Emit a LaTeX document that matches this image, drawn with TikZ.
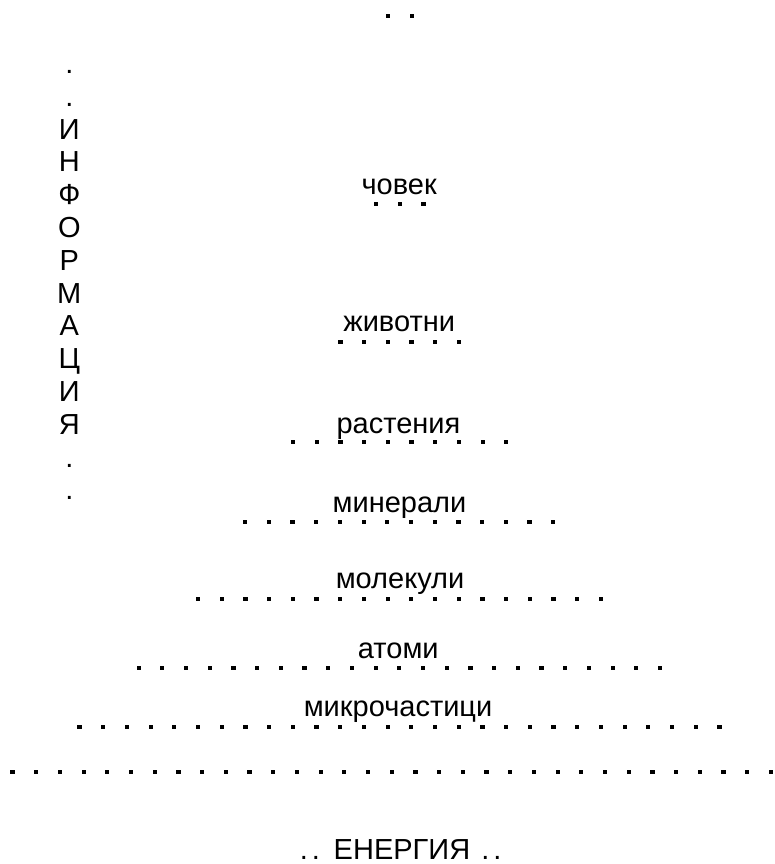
\documentclass[tikz,border=0pt]{standalone}
\usepackage{fontspec}
\setmainfont{Liberation Sans}
\newcommand\lvlfont{\fontsize{29}{35}\selectfont}
\tikzset{
    lvl/.style={font=\lvlfont, anchor=base, inner sep=0pt},
}
\begin{document}
\begin{tikzpicture}[x=1pt, y=-1pt]
    \useasboundingbox (0, 0) rectangle (774, 864);
    % rows of dots: y / number of dots / centre
    \foreach \y/\n/\c in {15.7/2/399.8, 204.3/3/399.7, 341.7/6/399.7, 441.7/10/399.7, 522.3/14/399.2, 599.3/18/399.5, 668.3/23/399.3, 726.7/28/399.5, 772.3/33/391.7} {
        \foreach \i in {1, ..., \n} {
            \fill ({\c + (\i - (\n + 1) / 2) * 23.7 - 2.1}, {\y - 2.1}) rectangle +(4.2, 4.2);
        }
    }
    \node[lvl] (chovek) at (399.2, 194) {човек};
    \node[lvl] (zhivotni) at (399.2, 331) {животни};
    \node[lvl] (rastenia) at (398.5, 433.3) {растения};
    \node[lvl] (minerali) at (399.5, 512.7) {минерали};
    \node[lvl] (molekuli) at (400, 588.3) {молекули};
    \node[lvl] (atomi) at (398.3, 658.3) {атоми};
    \node[lvl] (mikro) at (398, 716.7) {микрочастици};
    \node[lvl] (energia) at (400.7, 859.3) {.\kern4pt.\kern13.7pt ЕНЕРГИЯ\kern11.2pt.\kern4pt.};
    % the word down the left side
    \foreach \ch [count=\k] in {., ., И, Н, Ф, О, Р, М, А, Ц, И, Я, ., .} {
        \node[lvl] (info\k) at (69.3, {73.5 + 32.8 * (\k - 1)}) {\ch};
    }
\end{tikzpicture}
\end{document}
